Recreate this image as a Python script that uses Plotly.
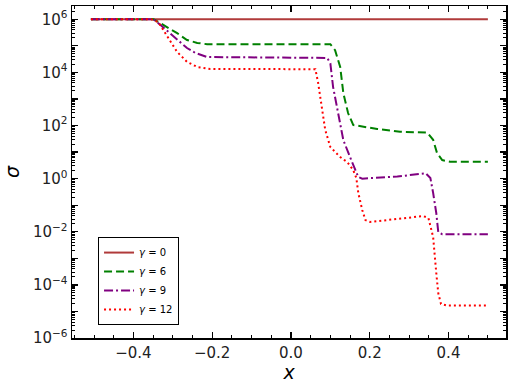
"""sigma(x) profiles for several gamma values"""
import plotly.graph_objects as go

# gamma = 0
x_g0 = [-0.508, 0.500]
s_g0 = [1e6, 1e6]

# gamma = 6
x_g6 = [-0.508, -0.349, -0.332, -0.314, -0.289, -0.264, -0.238, -0.213,
        0.100, 0.112, 0.125, 0.133, 0.145, 0.158, 0.219, 0.277, 0.346,
        0.361, 0.371, 0.384, 0.404, 0.500]
s_g6 = [1e6, 1e6, 7.2e5, 5.1e5, 3.0e5, 1.66e5, 1.29e5, 1.15e5,
        1.15e5, 6.9e4, 1.6e4, 1.66e3, 295, 105, 74, 58, 54,
        29, 9.1, 5.0, 4.3, 4.3]

# gamma = 9
x_g9 = [-0.508, -0.349, -0.332, -0.311, -0.289, -0.264, -0.243, -0.213,
        0.092, 0.100, 0.107, 0.118, 0.133, 0.156, 0.171, 0.181, 0.270,
        0.342, 0.354, 0.361, 0.369, 0.374, 0.384, 0.500]
s_g9 = [1e6, 1e6, 6.2e5, 3.3e5, 1.66e5, 8.3e4, 5.4e4, 3.8e4,
        3.5e4, 2.2e4, 2.8e3, 380, 28, 3.9, 1.15, 1.0, 1.2,
        1.6, 1.05, 0.29, 0.05, 0.0098, 0.0081, 0.0081]

# gamma = 12
x_g12 = [-0.508, -0.355, -0.337, -0.324, -0.306, -0.289, -0.264, -0.238, -0.205,
         0.062, 0.069, 0.079, 0.087, 0.100, 0.112, 0.125, 0.143, 0.158,
         0.166, 0.171, 0.181, 0.189, 0.201, 0.270, 0.336, 0.349, 0.361,
         0.369, 0.374, 0.381, 0.397, 0.500]
s_g12 = [1e6, 1e6, 7.9e5, 4.0e5, 1.4e5, 5.9e4, 2.5e4, 1.6e4, 1.35e4,
         1.32e4, 4.0e3, 380, 68, 15.5, 10, 6.5, 4.2, 2.1,
         1.05, 0.29, 0.066, 0.0275, 0.0234, 0.030, 0.039, 0.033, 0.0063,
         2.75e-4, 4.9e-5, 1.9e-5, 1.66e-5, 1.66e-5]

y_exps = list(range(-6, 7))
y_ticktext = ['10<sup>%s</sup>' % str(e).replace('-', '\u2212') if e % 2 == 0 else ''
              for e in y_exps]
y_minor = [m * 10.0 ** e for e in range(-6, 7) for m in range(2, 10)]

fig = go.Figure()

fig.add_trace(go.Scatter(x=x_g0, y=s_g0, mode='lines', name='<i>γ</i> = 0',
                         line=dict(color='#b03a3a', width=2)))
fig.add_trace(go.Scatter(x=x_g6, y=s_g6, mode='lines', name='<i>γ</i> = 6',
                         line=dict(color='#008000', width=2, dash='8px,4px')))
fig.add_trace(go.Scatter(x=x_g9, y=s_g9, mode='lines', name='<i>γ</i> = 9',
                         line=dict(color='#800080', width=2, dash='9px,3px,2px,3px')))
fig.add_trace(go.Scatter(x=x_g12, y=s_g12, mode='lines', name='<i>γ</i> = 12',
                         line=dict(color='#ff0000', width=2, dash='2px,3px')))

axis_common = dict(
    showline=True, linecolor='black', linewidth=1.5, mirror='allticks',
    ticks='inside', ticklen=6, tickwidth=1.3, tickcolor='black',
    showgrid=False, zeroline=False, automargin=False, showspikes=False,
    tickfont=dict(family='DejaVu Sans', size=15, color='#222'),
)

fig.update_xaxes(
    range=[-0.556, 0.546],
    tickvals=[-0.4, -0.2, 0.0, 0.2, 0.4],
    tickformat='.1f',
    minor=dict(dtick=0.05, tick0=0, ticks='inside', ticklen=3, tickwidth=1, tickcolor='black'),
    title=dict(text='<i>x</i>', font=dict(family='DejaVu Sans', size=19, color='black'), standoff=0),
    **axis_common
)
fig.update_yaxes(
    type='log',
    range=[-6, 6.5],
    tickvals=[10.0 ** e for e in y_exps],
    ticktext=y_ticktext,
    minor=dict(tickvals=y_minor, ticks='inside', ticklen=3, tickwidth=1, tickcolor='black'),
    title=dict(text='<i>σ</i>', font=dict(family='DejaVu Sans', size=19, color='black'), standoff=8),
    **axis_common
)

fig.update_layout(
    width=516, height=386,
    margin=dict(l=72, r=10, t=6, b=48),
    template='plotly_white',
    plot_bgcolor='white',
    paper_bgcolor='white',
    hovermode=False,
    font=dict(family='DejaVu Sans', color='black'),
    legend=dict(
        x=0.06, y=0.304, xanchor='left', yanchor='top',
        bgcolor='white', bordercolor='black', borderwidth=1,
        font=dict(family='DejaVu Sans', size=10),
        tracegroupgap=0, itemwidth=30,
    ),
)

fig.write_html("out.html", config={'displayModeBar': False, 'staticPlot': True},
               post_script="document.body.style.margin='0';")
